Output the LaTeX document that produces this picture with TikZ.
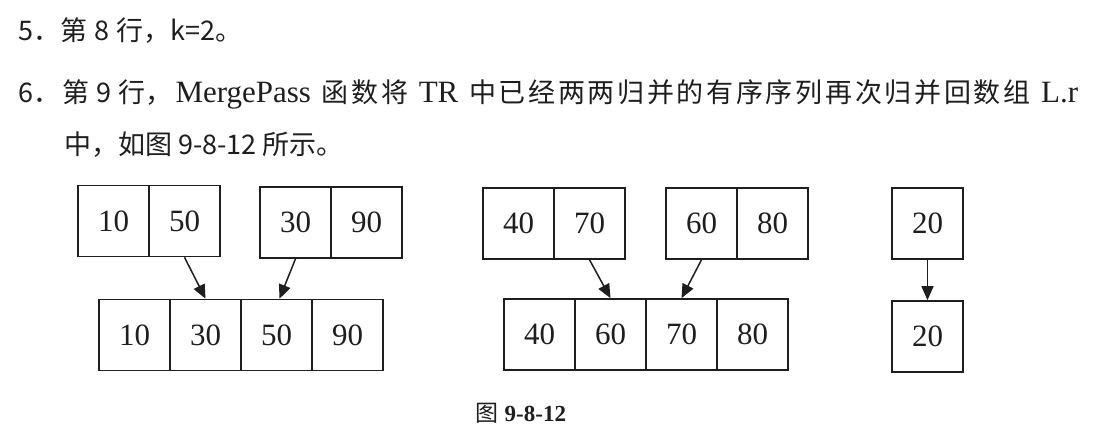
\documentclass[tikz,border=0pt]{standalone}
\usepackage{fontspec}
\setmainfont{Liberation Serif}
\newfontfamily\cjk{Noto Sans CJK SC}
\usetikzlibrary{arrows.meta}
\definecolor{ink}{HTML}{1E1E1E}
\newcommand\jg{\hskip 0pt plus 1fil\relax}
\newcommand\lat[1]{{\fontsize{31}{31}\selectfont #1}}
\begin{document}
\begin{tikzpicture}[x=1pt,y=-1pt,
  cell/.style={draw=ink, text=ink, line width=1.6pt, minimum width=71pt, minimum height=71pt, inner sep=0pt, font=\fontsize{31}{31}\selectfont},
  txt/.style={anchor=base west, inner sep=0pt, text=ink, font=\fontsize{27}{27}\selectfont},
  arr/.style={draw=ink, line width=1.5pt, -{Triangle[length=14pt,width=12pt]}}]
\useasboundingbox[fill=white] (0,0) rectangle (1106,443);
% text lines
\node[txt] (l1) at (18,41) {{\cjk 5．第\hspace{7pt}8\hspace{7pt}行，k=2。}};
\node[txt] (l2) at (18,103) {\hbox to 1060pt{{\cjk 6．\jg 第\hspace{7pt}9\hspace{7pt}行，}\jg \lat{MergePass}\hspace{8pt}\jg{\cjk 函\jg 数\jg 将}\hspace{8pt}\jg \lat{TR}\hspace{8pt}\jg{\cjk 中\jg 已\jg 经\jg 两\jg 两\jg 归\jg 并\jg 的\jg 有\jg 序\jg 序\jg 列\jg 再\jg 次\jg 归\jg 并\jg 回\jg 数\jg 组}\hspace{8pt}\jg \lat{L.r}}};
\node[txt] (l3) at (64,155) {{\cjk 中，如图\hspace{6pt}9-8-12\hspace{6pt}所示。}};
% group 1
\node[cell] (a11) at (113.5,221) {10};
\node[cell] (a12) at (184.5,221) {50};
\node[cell] (a21) at (295.5,222.5) {30};
\node[cell] (a22) at (366.5,222.5) {90};
\node[cell] (b1) at (134.5,335) {10};
\node[cell] (b2) at (205.5,335) {30};
\node[cell] (b3) at (276.5,335) {50};
\node[cell] (b4) at (347.5,335) {90};
\draw[arr] (a12.south) -- (b2.north);
\draw[arr] (a21.south) -- ([xshift=3pt]b3.north);
% group 2
\node[cell] (c11) at (518.5,223.5) {40};
\node[cell] (c12) at (589.5,223.5) {70};
\node[cell] (c21) at (701.5,223.5) {60};
\node[cell] (c22) at (772.5,223.5) {80};
\node[cell] (d1) at (539.5,334.5) {40};
\node[cell] (d2) at (610.5,334.5) {60};
\node[cell] (d3) at (681.5,334.5) {70};
\node[cell] (d4) at (752.5,334.5) {80};
\draw[arr] (c12.south) -- (d2.north);
\draw[arr] (c21.south) -- (d3.north);
% group 3
\node[cell] (e1) at (927.5,223.5) {20};
\node[cell] (f1) at (927.5,336.5) {20};
\draw[arr] (e1.south) -- (f1.north);
% caption
\node[anchor=base, inner sep=0pt, text=ink, font=\fontsize{23}{23}\selectfont] (cap) at (521,421) {{\cjk 图} \textbf{9-8-12}};
\end{tikzpicture}
\end{document}
